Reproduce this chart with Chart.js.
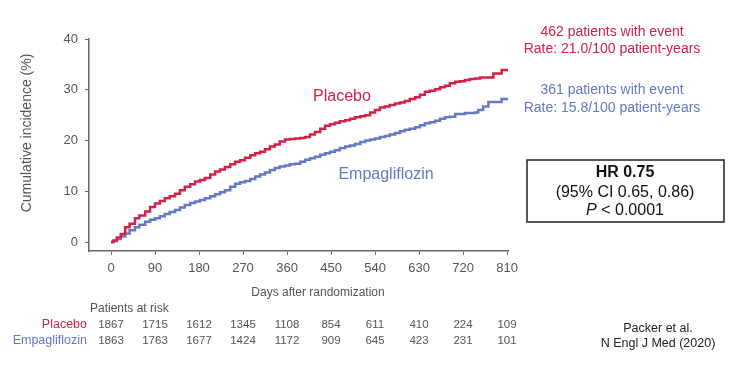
<!DOCTYPE html>
<html>
<head>
<meta charset="utf-8">
<script src="https://cdn.jsdelivr.net/npm/chart.js@4/dist/chart.umd.min.js"></script>
<style>
  html, body { margin: 0; padding: 0; background: #fff; }
  #wrap { width: 736px; height: 367px; position: relative; }
</style>
</head>
<body>
<div id="wrap"><canvas id="km" width="736" height="367"></canvas></div>
<script>
// days after randomization and cumulative incidence (%)
const placeboDays = [0, 5, 12, 20, 29, 38, 49, 58, 70, 80, 90, 100, 110, 120, 131, 141, 151, 162, 172, 182, 192, 203, 213, 223, 233, 244, 254, 264, 274, 285, 295, 305, 315, 325, 335, 345, 356, 366, 376, 387, 397, 407, 417, 428, 438, 448, 458, 468, 479, 489, 499, 510, 520, 530, 540, 550, 560, 570, 581, 591, 601, 611, 622, 632, 642, 652, 663, 673, 683, 693, 704, 714, 724, 734, 745, 755, 782, 799, 812];
const placeboPct = [0, 0.3, 0.9, 1.6, 2.9, 3.6, 4.7, 5.2, 6.0, 6.9, 7.6, 8.1, 8.6, 9.0, 9.5, 10.2, 10.9, 11.4, 11.9, 12.2, 12.6, 13.3, 13.9, 14.3, 14.8, 15.3, 15.8, 16.1, 16.6, 17.1, 17.5, 17.8, 18.3, 18.8, 19.2, 19.8, 20.2, 20.3, 20.4, 20.5, 20.7, 21.2, 21.7, 22.3, 22.9, 23.2, 23.5, 23.8, 24.0, 24.3, 24.6, 24.8, 25.0, 25.5, 26.0, 26.5, 26.7, 27.0, 27.3, 27.5, 27.8, 28.2, 28.5, 29.0, 29.6, 29.8, 30.1, 30.5, 30.8, 31.3, 31.6, 31.7, 31.9, 32.1, 32.2, 32.4, 33.2, 33.9, 33.9];

const empaDays = [0, 5, 12, 20, 29, 38, 49, 58, 70, 80, 90, 100, 110, 120, 131, 141, 151, 162, 172, 182, 192, 203, 213, 223, 233, 244, 254, 264, 274, 285, 295, 305, 315, 325, 335, 345, 356, 366, 376, 387, 397, 407, 417, 428, 438, 448, 458, 468, 479, 489, 499, 510, 520, 530, 540, 550, 560, 570, 581, 591, 601, 611, 622, 632, 642, 652, 663, 673, 683, 693, 704, 714, 724, 734, 745, 751, 761, 772, 799, 812];
const empaPct = [0, 0.2, 0.6, 1.1, 1.7, 2.3, 2.9, 3.4, 4.0, 4.4, 4.7, 5.1, 5.5, 5.9, 6.3, 6.8, 7.3, 7.7, 8.0, 8.3, 8.6, 9.0, 9.4, 9.8, 10.2, 10.9, 11.5, 11.8, 12.0, 12.4, 12.9, 13.3, 13.7, 14.2, 14.6, 14.9, 15.1, 15.3, 15.4, 15.8, 16.2, 16.5, 16.8, 17.2, 17.5, 17.8, 18.1, 18.5, 18.8, 19.0, 19.3, 19.7, 20.0, 20.2, 20.4, 20.7, 20.9, 21.2, 21.5, 21.8, 22.1, 22.3, 22.6, 23.0, 23.4, 23.6, 23.9, 24.3, 24.6, 24.7, 25.2, 25.2, 25.4, 25.4, 25.5, 26.0, 26.7, 27.6, 28.2, 28.2];

const xTicks = [0, 90, 180, 270, 360, 450, 540, 630, 720, 810];
const yTicks = [0, 10, 20, 30, 40];

const riskPlacebo = [1867, 1715, 1612, 1345, 1108, 854, 611, 410, 224, 109];
const riskEmpa = [1863, 1763, 1677, 1424, 1172, 909, 645, 423, 231, 101];

const RED = '#d5214a';
const BLUE = '#6479bf';
const GREY = '#555555';
const FONT = '"Liberation Sans", Arial, sans-serif';

function toPoints(days, vals) {
    return days.map((d, i) => ({ x: d, y: vals[i] }));
}

const textPlugin = {
    id: 'kmText',
    afterDraw(chart) {
        const ctx = chart.ctx;
        const xs = chart.scales.x;
        ctx.save();
        ctx.textBaseline = 'middle';

        // y axis title
        ctx.save();
        ctx.translate(27, 133);
        ctx.rotate(-Math.PI / 2);
        ctx.textAlign = 'center';
        ctx.fillStyle = GREY;
        ctx.font = '14px ' + FONT;
        ctx.fillText('Cumulative incidence (%)', 0, 0);
        ctx.restore();

        // curve labels
        ctx.textAlign = 'center';
        ctx.font = '16px ' + FONT;
        ctx.fillStyle = RED;
        ctx.fillText('Placebo', 342, 97);
        ctx.fillStyle = BLUE;
        ctx.fillText('Empagliflozin', 386, 175);

        // event counts
        ctx.font = '14px ' + FONT;
        ctx.fillStyle = RED;
        ctx.fillText('462 patients with event', 612, 32);
        ctx.fillText('Rate: 21.0/100 patient-years', 612, 49);
        ctx.fillStyle = BLUE;
        ctx.fillText('361 patients with event', 612, 90);
        ctx.fillText('Rate: 15.8/100 patient-years', 612, 108);

        // HR box
        ctx.strokeStyle = '#222';
        ctx.lineWidth = 1.5;
        ctx.strokeRect(527, 160, 197, 62);
        ctx.fillStyle = '#111';
        ctx.font = 'bold 16px ' + FONT;
        ctx.fillText('HR 0.75', 625, 173);
        ctx.font = '16px ' + FONT;
        ctx.fillText('(95% CI 0.65, 0.86)', 625, 193);
        ctx.textAlign = 'left';
        ctx.font = 'italic 16px ' + FONT;
        const pw = ctx.measureText('P').width;
        ctx.font = '16px ' + FONT;
        const rest = ' < 0.0001';
        const rw = ctx.measureText(rest).width;
        const px = 625 - (pw + rw) / 2;
        ctx.font = 'italic 16px ' + FONT;
        ctx.fillText('P', px, 211);
        ctx.font = '16px ' + FONT;
        ctx.fillText(rest, px + pw, 211);

        // x axis title
        ctx.textAlign = 'center';
        ctx.fillStyle = GREY;
        ctx.font = '12px ' + FONT;
        ctx.fillText('Days after randomization', 318, 293);

        // patients at risk table
        ctx.textAlign = 'left';
        ctx.fillText('Patients at risk', 90, 309);
        ctx.textAlign = 'right';
        ctx.font = '12.5px ' + FONT;
        ctx.fillStyle = RED;
        ctx.fillText('Placebo', 87, 325);
        ctx.fillStyle = BLUE;
        ctx.fillText('Empagliflozin', 87, 341);
        ctx.textAlign = 'center';
        ctx.fillStyle = GREY;
        ctx.font = '11.5px ' + FONT;
        xTicks.forEach((d, i) => {
            const x = xs.getPixelForValue(d);
            ctx.fillText(String(riskPlacebo[i]), x, 325);
            ctx.fillText(String(riskEmpa[i]), x, 341);
        });

        // citation
        ctx.fillStyle = '#222';
        ctx.font = '12.5px ' + FONT;
        ctx.fillText('Packer et al.', 658, 329);
        ctx.fillText('N Engl J Med (2020)', 658, 344);
        ctx.restore();
    }
};

new Chart(document.getElementById('km').getContext('2d'), {
    type: 'line',
    data: {
        datasets: [
            {
                label: 'Placebo',
                data: toPoints(placeboDays, placeboPct),
                borderColor: RED,
                borderWidth: 2.5,
                pointRadius: 0,
                stepped: true,
                fill: false
            },
            {
                label: 'Empagliflozin',
                data: toPoints(empaDays, empaPct),
                borderColor: BLUE,
                borderWidth: 2.5,
                pointRadius: 0,
                stepped: true,
                fill: false
            }
        ]
    },
    options: {
        responsive: false,
        animation: false,
        layout: { padding: { left: 0, top: 39, right: 228, bottom: 0 } },
        plugins: { legend: { display: false }, tooltip: { enabled: false } },
        scales: {
            x: {
                type: 'linear',
                min: -45,
                max: 812,
                afterBuildTicks: s => { s.ticks = xTicks.map(v => ({ value: v })); },
                afterFit: s => { s.height = 116; },
                grid: { display: true, drawOnChartArea: false, drawTicks: true, tickLength: 4, color: '#666' },
                border: { display: true, color: '#666', width: 1.5 },
                ticks: { color: GREY, font: { size: 13, family: FONT }, padding: 6, maxRotation: 0 }
            },
            y: {
                type: 'linear',
                min: -1.77,
                max: 40,
                afterBuildTicks: s => { s.ticks = yTicks.map(v => ({ value: v })); },
                afterFit: s => { s.width = 89; },
                grid: { display: true, drawOnChartArea: false, drawTicks: true, tickLength: 4, color: '#666' },
                border: { display: true, color: '#666', width: 1.5 },
                ticks: { color: GREY, font: { size: 13, family: FONT }, padding: 7 }
            }
        }
    },
    plugins: [textPlugin]
});
</script>
</body>
</html>
